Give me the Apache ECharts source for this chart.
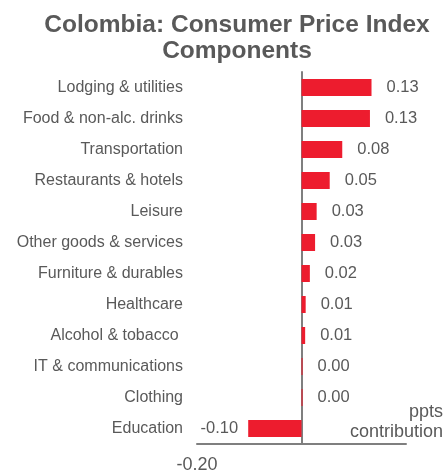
<!DOCTYPE html>
<html><head><meta charset="utf-8">
<script src="https://cdn.jsdelivr.net/npm/echarts@6/dist/echarts.min.js"></script>
<style>html,body{margin:0;padding:0;background:#fff}#c{width:444px;height:474px}</style>
</head><body><div id="c"></div>
<script>
var categories = ["Lodging & utilities","Food & non-alc. drinks","Transportation","Restaurants & hotels","Leisure","Other goods & services","Furniture & durables","Healthcare","Alcohol & tobacco ","IT & communications","Clothing","Education"];
var values = [0.134,0.131,0.078,0.054,0.029,0.026,0.016,0.008,0.007,0.002,0.002,-0.102];
var axisMin = -0.2, axisMax = 0.2;
var axisTickLabels = ["-0.20"];

var txt = '#595959';
var chart = echarts.init(document.getElementById('c'), null, {renderer:'canvas'});
var data = values.map(function(v){
  var d = {value: v};
  if (v < 0) d.label = {position:'left', distance: 10};
  return d;
});
chart.setOption({
  animation:false,
  title:{text:'Colombia: Consumer Price Index\nComponents', left:232, textAlign:'center', top:7,
    textStyle:{fontFamily:'Liberation Sans', fontSize:24.5, fontWeight:'bold', color:txt, lineHeight:26}},
  grid:{left:197, right:38, top:72, bottom:30},
  xAxis:{type:'value', min:axisMin, max:axisMax, interval:0.2,
    splitLine:{show:false}, axisTick:{show:false},
    axisLine:{show:true, lineStyle:{color:'#7f7f7f', width:2}},
    axisLabel:{fontFamily:'Liberation Sans', fontSize:18, color:txt, margin:12,
      formatter:function(v){ var s=v.toFixed(2); return axisTickLabels.indexOf(s)>=0 ? s : ''; }}},
  yAxis:{type:'category', data:categories, inverse:true,
    axisTick:{show:false},
    axisLine:{show:true, onZero:true, lineStyle:{color:'#7f7f7f', width:2}},
    axisLabel:{fontFamily:'Liberation Sans', fontSize:16, color:txt, margin:14}},
  series:[{type:'bar', data:data, barWidth:17, itemStyle:{color:'#ED1C2E'},
    label:{show:true, position:'right', distance:15, fontFamily:'Liberation Sans', fontSize:16.5, color:txt,
      formatter:function(p){return p.value.toFixed(2);}}}],
  graphic:[
    {type:'text', right:1, top:403, style:{text:'ppts', fontFamily:'Liberation Sans', fontSize:18, fill:txt}},
    {type:'text', right:1, top:423, style:{text:'contribution', fontFamily:'Liberation Sans', fontSize:18, fill:txt}}
  ]
});
</script></body></html>
